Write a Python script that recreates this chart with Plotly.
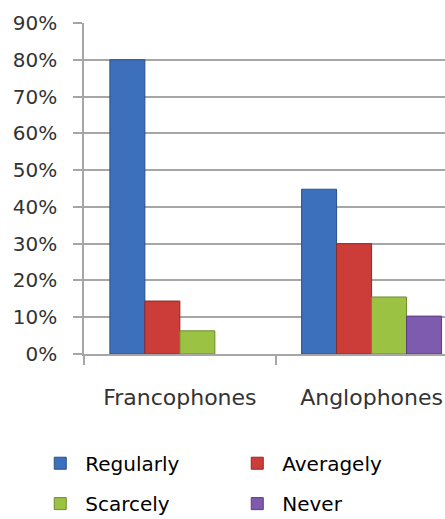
import plotly.graph_objects as go

categories = ["Francophones", "Anglophones"]
series_names = ["Regularly", "Averagely", "Scarcely", "Never"]
regularly = [0.80, 0.448]
averagely = [0.144, 0.30]
scarcely = [0.063, 0.155]
never = [None, 0.103]
tick_vals = [0, 0.1, 0.2, 0.3, 0.4, 0.5, 0.6, 0.7, 0.8, 0.9]

values = [regularly, averagely, scarcely, never]
fills = ["#3C70BD", "#CC3D3A", "#9CC243", "#7E5BAE"]
edges = ["#2B5088", "#8E2A28", "#6E8A2E", "#573E7B"]
legends = ["legend", "legend", "legend2", "legend2"]

FONT = "DejaVu Sans"
fig = go.Figure()
for name, vals, fc, ec, lg in zip(series_names, values, fills, edges, legends):
    fig.add_trace(go.Bar(
        x=categories, y=vals, name=name,
        marker=dict(color=fc, line=dict(color=ec, width=1)),
        legend=lg,
    ))

leg_common = dict(orientation="h", x=-0.135, xanchor="left", yanchor="middle",
                  entrywidth=142, itemwidth=40, font=dict(size=20, color="#000000", family=FONT),
                  bgcolor="rgba(0,0,0,0)")
fig.update_layout(
    width=445, height=519,
    margin=dict(l=84, r=0, t=23, b=165, autoexpand=False),
    paper_bgcolor="white", plot_bgcolor="white",
    barmode="group", bargap=0.27, bargroupgap=0,
    font=dict(family=FONT, color="#333333"),
    legend=dict(y=-0.33, **leg_common),
    legend2=dict(y=-0.452, **leg_common),
)
fig.update_xaxes(
    type="category", range=[-0.5, 1.383],
    showline=True, linecolor="#a6a6a6", linewidth=1.5,
    ticks="outside", tickson="boundaries", ticklen=9, tickcolor="#a6a6a6", tickwidth=1.5,
    tickfont=dict(size=22, color="#333333", family=FONT),
    ticklabelstandoff=23,
    showgrid=False,
)
fig.update_yaxes(
    range=[0, 0.9], tickvals=tick_vals, tickformat=".0%",
    showline=True, linecolor="#a6a6a6", linewidth=1.5,
    ticks="outside", ticklen=9, tickcolor="#a6a6a6", tickwidth=1.5,
    showgrid=True, gridcolor="#a6a6a6", gridwidth=1.5,
    tickfont=dict(size=20, color="#333333", family=FONT),
    ticklabelstandoff=12, zeroline=False,
)
fig.write_html("out.html")
